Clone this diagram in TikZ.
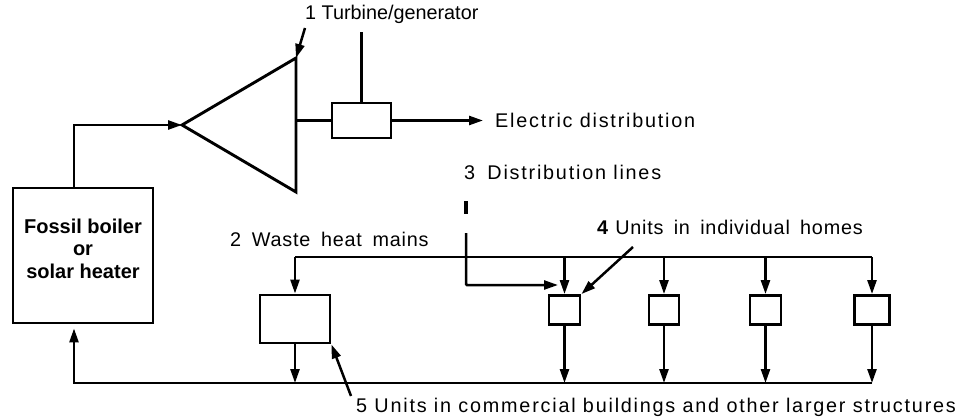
\documentclass[tikz,border=0pt]{standalone}
\usepackage{fontspec}
\setmainfont{Liberation Sans}
\newfontfamily\lblfont[LetterSpace=9]{Liberation Sans}
\newfontfamily\lblfontB[LetterSpace=4]{Liberation Sans}
\newfontfamily\lblfontC{Liberation Sans}
\usetikzlibrary{arrows.meta}
\tikzset{
  every picture/.style={x=1pt,y=-1pt},
  wire/.style={line width=2.5pt},
  flow/.style={wire,-{Triangle[length=14pt,width=9pt]}},
  unit/.style={draw,line width=2.9pt,inner sep=0pt,minimum width=#1},
  lbl/.style={font=\lblfont\fontsize{19.8}{22}\selectfont,inner sep=0pt,anchor=base west},
  lblB/.style={lbl,font=\lblfontB\fontsize{19.8}{22}\selectfont},
  lblC/.style={lbl,font=\lblfontC\fontsize{19.8}{22}\selectfont},
}
\begin{document}
\begin{tikzpicture}
\useasboundingbox (0,0) rectangle (959,420);
% turbine triangle
\coordinate (apex) at (182,125);
\coordinate (ttop) at (296,58);
\coordinate (tbot) at (296,192);
\draw[line width=2.9pt,line join=miter] (apex) -- (ttop) -- (tbot) -- cycle;
% generator
\node[unit=59pt,minimum height=35pt] (gen) at (361.5,120.5) {};
\coordinate (gtop) at (361.5,32);
\draw[wire] (tbot |- gen.west) -- (gen.west);
\draw[wire] (gen.north) -- (gtop);
\node[lbl] (elec) at (495,128) {Electric distribution};
\draw[flow] (gen.east) -- ([xshift=-12pt]elec.west |- gen.east);
\node[lblC] (t1) at (305,20) {1 Turbine/generator};
\coordinate (t1a) at (305,28);
\draw[flow] (t1a) -- (ttop);
% boiler
\node[unit=140pt,minimum height=135pt,
  label={[font=\bfseries\fontsize{20}{22.5}\selectfont,align=center,yshift=7pt]center:Fossil boiler\\or\\solar heater}]
  (boiler) at (83,255.5) {};
\draw[flow] ([xshift=-9pt]boiler.north) |- (apex);
% commercial and homes
\node[unit=70pt,minimum height=48pt] (comm) at (295,319) {};
\node[unit=31pt,minimum height=29pt] (h1) at (564.5,310) {};
\node[unit=30pt,minimum height=29pt] (h2) at (664,310) {};
\node[unit=31pt,minimum height=29pt] (h3) at (765.5,310) {};
\node[unit=35pt,minimum height=29pt] (h4) at (872,310) {};
\coordinate (mainR) at (872,257);
\coordinate (mainL) at (295,257);
\coordinate (ret) at (872,383);
\draw[wire] (mainR) -- (mainL);
\draw[flow] (mainL) -- (comm.north);
\draw[flow] (comm.south) -- (comm.south |- ret);
\foreach \h in {h1,h2,h3,h4}{
  \draw[flow] (\h.north |- mainL) -- (\h.north);
  \draw[flow] (\h.south) -- (\h.south |- ret);
}
\draw[flow,shorten >=4pt] (ret) -| ([xshift=-9pt]boiler.south);
% labels
\node[lblB] (l2) at (230,246) {2\hspace{0.22em} Waste\hspace{0.22em} heat\hspace{0.22em} mains};
\node[lbl] (l3) at (464,179) {3\hspace{0.25em} Distribution lines};
\node[lblB] (l4) at (597,234) {\textbf{4} Units\hspace{0.2em} in\hspace{0.2em} individual\hspace{0.2em} homes};
\node[lbl] (l5) at (356,412) {5 Units in commercial buildings and other larger structures};
% distribution line
\coordinate (d1) at (466,201);
\coordinate (d2) at (466,214);
\coordinate (d3) at (466,233);
\coordinate (dtip) at (558,285);
\draw[line width=3.2pt] (d1) -- (d2);
\draw[flow,rounded corners=1pt] (d3) |- (dtip);
% pointers
\coordinate (p4) at (633,247);
\draw[flow] (p4) -- (h1.north east);
\coordinate (p5) at (351,396);
\draw[flow] (p5) -- (comm.south east);
\end{tikzpicture}
\end{document}
